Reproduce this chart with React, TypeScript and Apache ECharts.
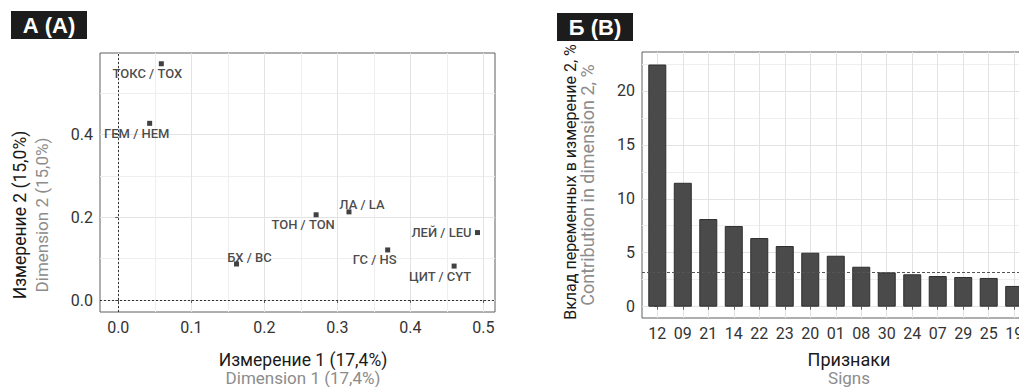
import React, { useEffect, useRef } from "react";
import * as echarts from "echarts";

// ---- Panel A: variable coordinates on dimensions 1 and 2 ----
const pointNames = [
  "ТОКС / TOX",
  "ГЕМ / HEM",
  "ТОН / TON",
  "ЛА / LA",
  "БХ / BC",
  "ГС / HS",
  "ЛЕЙ / LEU",
  "ЦИТ / CYT",
];
const dim1 = [0.059, 0.043, 0.271, 0.316, 0.162, 0.369, 0.492, 0.46];
const dim2 = [0.571, 0.427, 0.206, 0.213, 0.087, 0.121, 0.163, 0.082];
const xTicksA = [0, 0.1, 0.2, 0.3, 0.4, 0.5];
const xMinorA = [0.05, 0.15, 0.25, 0.35, 0.45];
const yTicksA = [0, 0.2, 0.4];
const yMinorA = [0.1, 0.3, 0.5];

// label nudges (layout only, px)
const labelNudge: [number, number][] = [
  [-14, 10],
  [-13, 10],
  [-13, 10],
  [13, -7],
  [13, -7],
  [-13, 10],
  [-36, 0],
  [-14, 10],
];

// ---- Panel B: contributions to dimension 2 ----
const signs = ["12", "09", "21", "14", "22", "23", "20", "01", "08", "30", "24", "07", "29", "25", "19"];
const contrib = [22.44, 11.48, 8.12, 7.47, 6.36, 5.62, 5.0, 4.72, 3.7, 3.18, 3.0, 2.84, 2.75, 2.66, 1.92];
const expectedContrib = 3.15;
const yTicksB = [0, 5, 10, 15, 20];
const yMinorB = [2.5, 7.5, 12.5, 17.5, 22.5];

const FONT = "Roboto";
const TICK_COLOR = "#333333";
const GRID_MAJOR = "#e3e3e3";
const GRID_MINOR = "#eeeeee";
const BORDER = "#5e5e5e";
const GRAY_TEXT = "#8c8c8c";

export default function App() {
  const ref = useRef<HTMLDivElement>(null);

  useEffect(() => {
    if (!ref.current) return;
    const chart = echarts.init(ref.current, null, { renderer: "svg" });

    const scatterData = dim1.map((x, i) => ({
      name: pointNames[i],
      value: [x, dim2[i]],
      label: { offset: labelNudge[i] },
    }));
    const barData = contrib.map((v, i) => [i, v]);
    const catIdx = signs.map((_, i) => i);

    const labelStyle = { color: TICK_COLOR, fontSize: 16, fontFamily: FONT, margin: 7 };
    const tickStyle = { show: true, length: 3, lineStyle: { color: BORDER } };

    const majorAxis = (gridIndex: number, min: number, max: number, ticks: number[], labels: number[], fmt: (v: number) => string, position: string) => ({
      gridIndex,
      type: "value",
      position,
      min,
      max,
      axisLine: { show: false },
      axisTick: { ...tickStyle, customValues: ticks },
      axisLabel: { ...labelStyle, customValues: labels, formatter: fmt },
      splitLine: { show: true, lineStyle: { color: GRID_MAJOR, width: 1 } },
    });
    const minorAxis = (gridIndex: number, min: number, max: number, ticks: number[], position: string) => ({
      gridIndex,
      type: "value",
      position,
      min,
      max,
      axisLine: { show: false },
      axisTick: { show: false, customValues: ticks },
      axisLabel: { show: false, customValues: ticks },
      splitLine: { show: true, lineStyle: { color: GRID_MINOR, width: 1 } },
    });

    const option: any = {
      animation: false,
      backgroundColor: "#ffffff",
      textStyle: { fontFamily: FONT },
      grid: [
        { left: 100, top: 53, width: 395, height: 259, show: true, borderColor: BORDER, borderWidth: 1, backgroundColor: "transparent", outerBoundsMode: "none", containLabel: false },
        { left: 642, top: 52, width: 413, height: 266, show: true, borderColor: BORDER, borderWidth: 1, backgroundColor: "transparent", outerBoundsMode: "none", containLabel: false },
      ],
      xAxis: [
        majorAxis(0, -0.025, 0.516, xTicksA, xTicksA, (v: number) => v.toFixed(1), "bottom"),
        minorAxis(0, -0.025, 0.516, xMinorA, "top"),
        majorAxis(1, -0.6, 15.6, [...catIdx, signs.length], catIdx, (v: number) => signs[Math.round(v)] ?? "", "bottom"),
      ],
      yAxis: [
        majorAxis(0, -0.029, 0.597, yTicksA, yTicksA, (v: number) => v.toFixed(1), "left"),
        minorAxis(0, -0.029, 0.597, yMinorA, "right"),
        majorAxis(1, -1.05, 23.6, yTicksB, yTicksB, (v: number) => String(v), "left"),
        minorAxis(1, -1.05, 23.6, yMinorB, "right"),
      ],
      series: [
        {
          type: "scatter",
          xAxisIndex: 0,
          yAxisIndex: 0,
          symbol: "rect",
          symbolSize: 5,
          itemStyle: { color: "#111111" },
          data: scatterData,
          label: {
            show: true,
            position: "inside",
            formatter: "{b}",
            color: "#1a1a1a",
            fontSize: 13,
            fontWeight: 500,
            fontFamily: FONT,
            align: "center",
            verticalAlign: "middle",
          },
          markLine: {
            silent: true,
            symbol: "none",
            label: { show: false },
            lineStyle: { color: "#333333", type: [2, 2], width: 1 },
            data: [{ xAxis: 0 }, { yAxis: 0 }],
          },
          z: 3,
        },
        {
          type: "scatter",
          xAxisIndex: 2,
          yAxisIndex: 2,
          data: [],
          z: 1,
          markLine: {
            silent: true,
            symbol: "none",
            label: { show: false },
            lineStyle: { color: "#555555", type: [3, 2], width: 1 },
            data: [{ yAxis: expectedContrib }],
          },
        },
        {
          type: "bar",
          xAxisIndex: 2,
          yAxisIndex: 2,
          barWidth: 18,
          data: barData,
          itemStyle: { color: "#4a4a4a", borderColor: "#2e2e2e", borderWidth: 1 },
          z: 3,
        },
      ],
      graphic: [
        { type: "rect", shape: { x: 11, y: 11, width: 76, height: 28 }, style: { fill: "#1c1c1c" } },
        {
          type: "text",
          x: 49,
          y: 25,
          style: { text: "А (A)", fill: "#ffffff", font: "bold 22px 'Liberation Sans'", align: "center", verticalAlign: "middle" },
        },
        { type: "rect", shape: { x: 557, y: 13, width: 76, height: 28 }, style: { fill: "#1c1c1c" } },
        {
          type: "text",
          x: 595,
          y: 27,
          style: { text: "Б (B)", fill: "#ffffff", font: "bold 22px 'Liberation Sans'", align: "center", verticalAlign: "middle" },
        },
        // Panel A axis titles
        {
          type: "text",
          x: 303,
          y: 360,
          style: { text: "Измерение 1 (17,4%)", fill: "#1a1a1a", font: `17.5px ${FONT}`, align: "center", verticalAlign: "middle" },
        },
        {
          type: "text",
          x: 303,
          y: 378,
          style: { text: "Dimension 1 (17,4%)", fill: GRAY_TEXT, font: `17px ${FONT}`, align: "center", verticalAlign: "middle" },
        },
        {
          type: "text",
          x: 20,
          y: 215,
          rotation: Math.PI / 2,
          style: { text: "Измерение 2 (15,0%)", fill: "#1a1a1a", font: `17.5px ${FONT}`, align: "center", verticalAlign: "middle" },
        },
        {
          type: "text",
          x: 42,
          y: 215,
          rotation: Math.PI / 2,
          style: { text: "Dimension 2 (15,0%)", fill: GRAY_TEXT, font: `17px ${FONT}`, align: "center", verticalAlign: "middle" },
        },
        // Panel B axis titles
        {
          type: "text",
          x: 849,
          y: 359,
          style: { text: "Признаки", fill: "#1a1a1a", font: `18px ${FONT}`, align: "center", verticalAlign: "middle" },
        },
        {
          type: "text",
          x: 849,
          y: 378,
          style: { text: "Signs", fill: GRAY_TEXT, font: `17px ${FONT}`, align: "center", verticalAlign: "middle" },
        },
        {
          type: "text",
          x: 570,
          y: 182,
          rotation: Math.PI / 2,
          style: { text: "Вклад переменных в измерение 2, %", fill: "#1a1a1a", font: `16px ${FONT}`, align: "center", verticalAlign: "middle" },
        },
        {
          type: "text",
          x: 587,
          y: 185,
          rotation: Math.PI / 2,
          style: { text: "Contribution in dimension 2, %", fill: GRAY_TEXT, font: `18px ${FONT}`, align: "center", verticalAlign: "middle" },
        },
      ],
    };

    chart.setOption(option);
    return () => chart.dispose();
  }, []);

  return (
    <div
      ref={ref}
      style={{ position: "fixed", left: 0, top: 0, width: 1019, height: 387, background: "#ffffff" }}
    />
  );
}
